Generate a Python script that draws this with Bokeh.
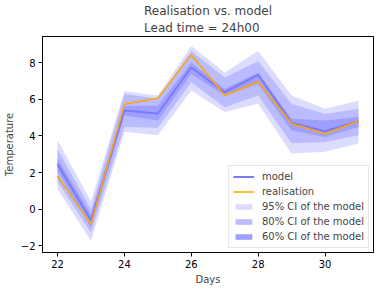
from bokeh.plotting import figure
from bokeh.models import Range1d, Legend, LegendItem, Title, FixedTicker
from bokeh.embed import file_html
from bokeh.resources import INLINE

days = [22, 23, 24, 25, 26, 27, 28, 29, 30, 31]
model = [2.45, -0.6, 5.38, 5.22, 7.73, 6.38, 7.33, 4.7, 4.25, 4.8]
realisation = [1.8, -0.83, 5.73, 6.05, 8.43, 6.2, 6.95, 4.66, 4.1, 4.81]
ci95_lo = [1.1, -1.73, 4.22, 4.03, 6.47, 5.3, 5.75, 3.04, 3.13, 3.58]
ci95_hi = [3.76, 0.43, 6.43, 6.2, 8.9, 7.46, 8.63, 6.2, 5.48, 5.92]
ci80_lo = [1.5, -1.28, 4.49, 4.45, 6.92, 5.56, 6.2, 3.6, 3.67, 4.03]
ci80_hi = [3.28, 0.0, 6.29, 6.02, 8.63, 7.19, 8.09, 5.75, 5.2, 5.48]
ci60_lo = [2.1, -1.0, 5.11, 4.84, 7.37, 6.2, 6.83, 4.3, 3.94, 4.49]
ci60_hi = [2.77, -0.3, 5.65, 5.65, 8.0, 6.56, 7.46, 4.93, 4.84, 5.03]
x_ticks = [22, 24, 26, 28, 30]
y_ticks = [-2, 0, 2, 4, 6, 8]

FONT = "DejaVu Sans"

p = figure(frame_width=331, frame_height=216, output_backend="svg", toolbar_location=None,
           x_range=Range1d(21.55, 31.45), y_range=Range1d(-2.36, 9.42),
           min_border_left=35, min_border_right=2, min_border_top=0, min_border_bottom=33)
p.title.visible = False
p.add_layout(Title(text="Realisation vs. model\n Lead time = 24h00", align="center",
                   text_font=FONT, text_font_size="12px", text_font_style="normal",
                   text_line_height=1.2, standoff=3, offset=0), "above")

p.xgrid.visible = False
p.ygrid.visible = False
p.outline_line_color = "black"
p.outline_line_alpha = 1
p.outline_line_width = 1
p.background_fill_color = "white"
p.border_fill_color = "white"

for ax in (p.xaxis[0], p.yaxis[0]):
    ax.major_label_text_font = FONT
    ax.major_label_text_font_size = "10px"
    ax.major_label_text_color = "black"
    ax.axis_label_text_font = FONT
    ax.axis_label_text_font_size = "10px"
    ax.axis_label_text_font_style = "normal"
    ax.minor_tick_line_color = None
    ax.major_tick_out = 4
    ax.major_tick_in = 0
    ax.axis_line_color = "black"
    ax.major_label_standoff = 3
    ax.axis_label_standoff = 3
p.xaxis.ticker = FixedTicker(ticks=x_ticks)
p.yaxis.ticker = FixedTicker(ticks=y_ticks)
p.xaxis.axis_label = "Days"
p.yaxis.axis_label = "Temperature"

r95 = p.varea(x=days, y1=ci95_lo, y2=ci95_hi, fill_color="#dcdcfe")
r80 = p.varea(x=days, y1=ci80_lo, y2=ci80_hi, fill_color="#bbbbff")
r60 = p.varea(x=days, y1=ci60_lo, y2=ci60_hi, fill_color="#9f9fff")
rm = p.line(days, model, line_color="#7a7aff", line_width=2)
rr = p.line(days, realisation, line_color="orange", line_width=1.5)

legend = Legend(items=[
    LegendItem(label="model", renderers=[rm]),
    LegendItem(label="realisation", renderers=[rr]),
    LegendItem(label="95% CI of the model", renderers=[r95]),
    LegendItem(label="80% CI of the model", renderers=[r80]),
    LegendItem(label="60% CI of the model", renderers=[r60]),
], location="bottom_right")
legend.label_text_font = FONT
legend.label_text_font_size = "10px"
legend.label_height = 13
legend.glyph_height = 7
legend.glyph_width = 21
legend.spacing = 2
legend.padding = 4
legend.margin = 4
legend.label_standoff = 8
legend.border_line_color = "#cccccc"
legend.background_fill_alpha = 0.8
p.add_layout(legend, "center")

open("out.html", "w").write(file_html(p, INLINE))
